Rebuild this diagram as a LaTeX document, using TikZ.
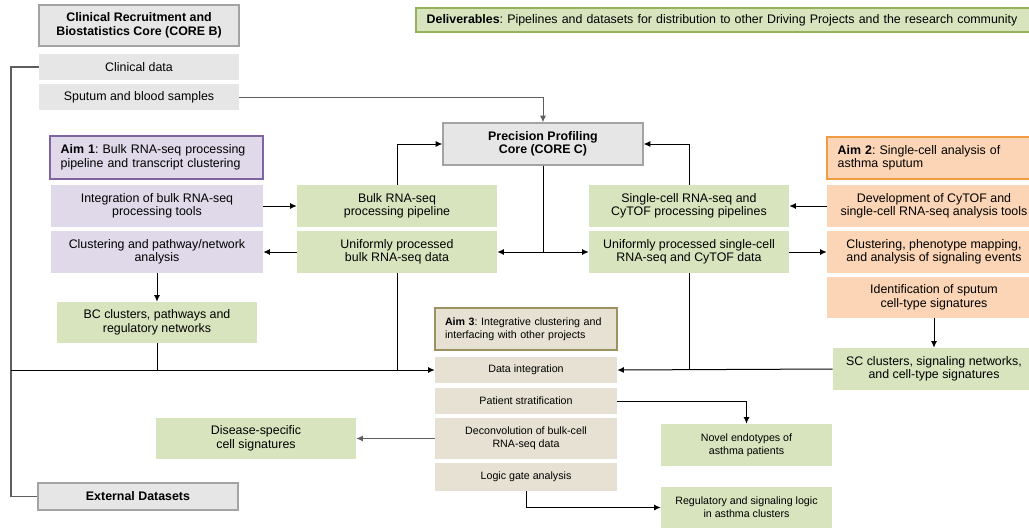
\documentclass[tikz,border=0pt]{standalone}
\usepackage{fontspec}
\setmainfont{Liberation Sans}
\usepackage{color}
\usepackage{tikz}
\usetikzlibrary{arrows.meta}
\definecolor{boxgray}{HTML}{E6E6E6}
\definecolor{edgegray}{HTML}{A3A3A3}
\definecolor{boxgreen}{HTML}{D8E4BE}
\definecolor{edgegreen}{HTML}{94B25A}
\definecolor{boxlav}{HTML}{E0D9E9}
\definecolor{edgelav}{HTML}{8064A2}
\definecolor{boxpeach}{HTML}{FBD5B5}
\definecolor{edgepeach}{HTML}{F39A45}
\definecolor{boxtan}{HTML}{E6E1D3}
\definecolor{edgetan}{HTML}{9C9160}
\definecolor{railgray}{HTML}{5E5E5E}
\tikzset{
  font={\fontsize{9.3pt}{10.1pt}\selectfont\frenchspacing},
  blk/.style 2 args={inner sep=0pt, align=center, minimum width=#1*0.75pt, minimum height=#2*0.75pt},
  hdr/.style 2 args={inner ysep=0pt, inner xsep=8pt, align=left, text width=#1*0.75pt-16pt, minimum height=#2*0.75pt, line width=1pt},
  core/.style={fill=boxgray, draw=edgegray, line width=1pt, font={\fontsize{9.3pt}{10.1pt}\selectfont\bfseries}},
  small/.style={font={\fontsize{8pt}{10pt}\selectfont\frenchspacing}},
  gray/.style={fill=boxgray},
  green/.style={fill=boxgreen},
  lav/.style={fill=boxlav},
  peach/.style={fill=boxpeach},
  tan/.style={fill=boxtan, small},
  arr/.style={-{Latex[length=5pt,width=4.5pt]}, line width=0.75pt},
  link/.style={line width=0.75pt},
  rail/.style={draw=railgray, line width=0.9pt}}

\begin{document}
\begin{tikzpicture}[x=0.75pt,y=-0.75pt]
\useasboundingbox (0,0) rectangle (1029,529);
\node[blk={200}{41}, core] (coreb) at (139,25.5) {Clinical Recruitment and\\Biostatistics Core (CORE B)};
\node[blk={200}{26}, gray] (clin) at (139,67) {Clinical data};
\node[blk={200}{26}, gray] (sput) at (139,97) {Sputum and blood samples};
\node[hdr={617}{24}, green, draw=edgegreen] (deliv) at (724.5,20) {\textbf{Deliverables}: Pipelines and datasets for distribution to other Driving Projects and the research community};
\node[hdr={213}{43}, lav, draw=edgelav] (aim1) at (156.5,157.5) {\textbf{Aim 1}: Bulk RNA-seq processing\\pipeline and transcript clustering};
\node[blk={212}{42}, lav] (integ) at (157,206) {Integration of bulk RNA-seq\\processing tools};
\node[blk={212}{42}, lav] (clust) at (157,252) {Clustering and pathway/network\\analysis};
\node[blk={200}{41}, green] (bc) at (157,322.5) {BC clusters, pathways and\\regulatory networks};
\node[blk={200}{42}, green] (bpipe) at (397,206) {Bulk RNA-seq\\processing pipeline};
\node[blk={200}{42}, green] (ubulk) at (397,252) {Uniformly processed\\bulk RNA-seq data};
\node[blk={200}{42}, core] (prec) at (543,144) {Precision Profiling\\Core (CORE C)};
\node[blk={200}{42}, green] (scpipe) at (689,206) {Single-cell RNA-seq and\\CyTOF processing pipelines};
\node[blk={200}{42}, green] (usc) at (689,252) {Uniformly processed single-cell\\RNA-seq and CyTOF data};
\node[hdr={214}{42}, peach, draw=edgepeach] (aim2) at (934,158) {\textbf{Aim 2}: Single-cell analysis of\\asthma sputum};
\node[blk={214}{42}, peach] (dev) at (934,206) {Development of CyTOF and\\single-cell RNA-seq analysis tools};
\node[blk={214}{42}, peach] (clph) at (934,252) {Clustering, phenotype mapping,\\and analysis of signaling events};
\node[blk={214}{41}, peach] (ident) at (934,297.5) {Identification of sputum\\cell-type signatures};
\node[blk={202}{42}, green] (scc) at (934,369) {SC clusters, signaling networks,\\and cell-type signatures};
\node[hdr={182}{42}, tan, draw=edgetan, inner xsep=7.5pt, text width=121.5pt] (aim3) at (526,329) {\textbf{Aim 3}: Integrative clustering and\\interfacing with other projects};
\node[blk={182}{26}, tan] (dint) at (526,370) {Data integration};
\node[blk={182}{26}, tan] (pstrat) at (526,401) {Patient stratification};
\node[blk={182}{41}, tan] (decon) at (526,438.5) {Deconvolution of bulk-cell\\RNA-seq data};
\node[blk={182}{28}, tan] (logic) at (526,477) {Logic gate analysis};
\node[blk={171}{42}, green, small] (novel) at (746.5,445) {Novel endotypes of\\asthma patients};
\node[blk={171}{41}, green, small] (reg) at (746.5,507.5) {Regulatory and signaling logic\\in asthma clusters};
\node[blk={200}{41}, green] (dis) at (256,438.5) {Disease-specific\\cell signatures};
\node[blk={200}{27}, core] (ext) at (138,496.5) {External Datasets};
\coordinate (left) at (11,0);
\draw[rail] (clin.west) -| (left |- ext.west) -- (ext.west);
\draw[arr] (left |- dint.west) -- (dint.west);
\draw[link] (bc.south) -- (bc.south |- dint.west);
\draw[link] (ubulk.south) -- (ubulk.south |- dint.west);
\draw[arr, railgray] (sput.east) -| (prec.north);
\draw[arr] (prec.south) |- (ubulk.east);
\draw[arr] (prec.south) |- (usc.west);
\draw[arr] (bpipe.north) |- (prec.west);
\draw[arr] (scpipe.north) |- (prec.east);
\draw[arr] (integ.east) -- (bpipe.west);
\draw[arr] (ubulk.west) -- (clust.east);
\draw[arr] (clust.south) -- (bc.north);
\draw[arr] (dev.west) -- (scpipe.east);
\draw[arr] (usc.east) -- (clph.west);
\draw[arr] (ident.south) -- (ident.south |- scc.north);
\draw[arr] (scc.west) -- (dint.east);
\draw[link] (usc.south) -- (usc.south |- dint.east);
\draw[arr] (pstrat.east) -| (novel.north);
\draw[arr] (logic.south) |- (reg.west);
\draw[arr, railgray] (decon.west) -- (dis.east);
\end{tikzpicture}
\end{document}
